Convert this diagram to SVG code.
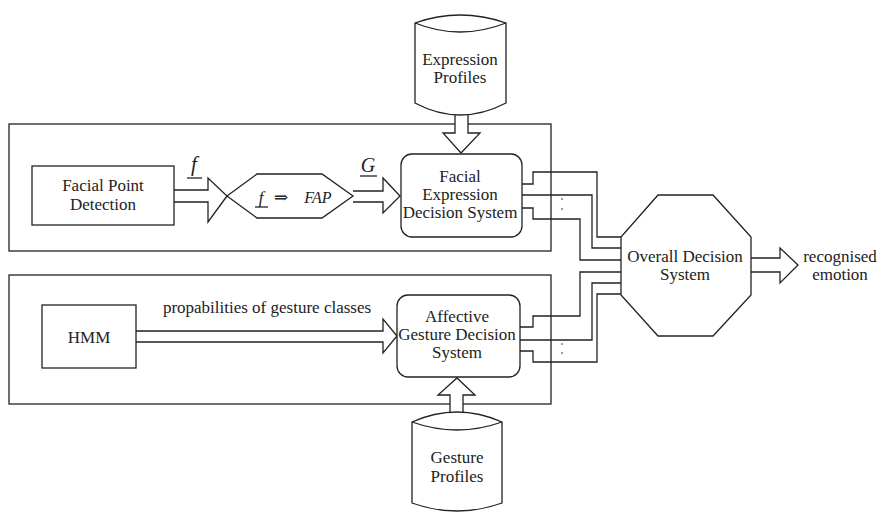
<svg xmlns="http://www.w3.org/2000/svg" width="880" height="512" viewBox="0 0 880 512">
<style>
.s{fill:none;stroke:#222;stroke-width:1.3;stroke-linejoin:miter}
.w{fill:#fff;stroke:#222;stroke-width:1.3}
text{font-family:'Liberation Serif','DejaVu Serif',serif;fill:#222;text-anchor:middle}
.t{font-size:17px}
.i{font-style:italic}
.d{fill:#222}
</style>
<rect width="880" height="512" fill="#fff"/>
<g id="containers">
<rect class="s" x="9" y="124" width="542" height="127"/>
<rect class="s" x="9" y="275" width="542" height="129"/>
</g>
<g id="connectors">
<path class="w" d="M174,190 H208 V178 L227,196 L208,222 V202 H174"/>
<path class="w" d="M353,191 H383 V178 L400,196 L383,213 V202 H353"/>
<path class="w" d="M455,110 V133 H443 L461,153 L480,133 H468 V110"/>
<path class="w" d="M136,331 H383 V319 L397,336 L383,353 V342 H136"/>
<path class="w" d="M450,420 V395 H438 L457,378 L475,395 H463 V420"/>
<path class="w" d="M751,258 H780 V248 L798,265 L780,283 V272 H751"/>
<path class="s" d="M522,184 H533 V172 H597 V237 H621"/>
<path class="s" d="M522,195 H592 V248 H621"/>
<path class="s" d="M522,208 H533 V219 H580 V260 H621"/>
<path class="s" d="M621,272 H580 V316 H533 V327 H520"/>
<path class="s" d="M621,283 H592 V340 H520"/>
<path class="s" d="M621,294 H597 V362 H533 V351 H520"/>
<circle class="d" cx="562" cy="199" r="0.8"/>
<circle class="d" cx="562" cy="209" r="0.8"/>
<circle class="d" cx="562" cy="344" r="0.8"/>
<circle class="d" cx="562" cy="353" r="0.8"/>
<text class="i" x="194" y="171" font-size="21">f</text>
<line class="s" x1="187" y1="178" x2="202" y2="178"/>
<text class="i" x="368" y="172" font-size="20">G</text>
<line class="s" x1="360" y1="176" x2="377" y2="176"/>
<text class="t" x="267" y="313">propabilities of gesture classes</text>
</g>
<g id="expression-profiles">
<path class="w" d="M415,23 Q460,7 506,23 V103 Q460,127 415,103 Z"/>
<path class="s" d="M415,23 Q460,41 506,23"/>
<text class="t" x="460" y="65">Expression</text>
<text class="t" x="460" y="83">Profiles</text>
</g>
<g id="gesture-profiles">
<path class="w" d="M412,422 Q457,402 502,422 V503 Q457,519 412,503 Z"/>
<path class="s" d="M412,422 Q457,438 502,422"/>
<text class="t" x="457" y="463">Gesture</text>
<text class="t" x="457" y="482">Profiles</text>
</g>
<g id="facial-point">
<rect class="w" x="32" y="166" width="142" height="59"/>
<text class="t" x="103" y="191">Facial Point</text>
<text class="t" x="103" y="210">Detection</text>
</g>
<g id="fap">
<path class="w" d="M227,196 L257,174 H322 L353,196 L322,218 H257 Z"/>
<text class="i" x="261" y="203" font-size="17">f</text>
<line class="s" x1="255" y1="207" x2="268" y2="207"/>
<text class="t" x="281" y="203">⇒</text>
<text class="i" x="318" y="203" font-size="16">FAP</text>
</g>
<g id="facial-decision">
<rect class="w" x="401" y="154" width="121" height="83" rx="11"/>
<text class="t" x="460" y="182">Facial</text>
<text class="t" x="460" y="200">Expression</text>
<text class="t" x="460" y="218">Decision System</text>
</g>
<g id="hmm">
<rect class="w" x="42" y="305" width="94" height="63"/>
<text class="t" x="89" y="343">HMM</text>
</g>
<g id="affective-decision">
<rect class="w" x="397" y="295" width="123" height="82" rx="11"/>
<text class="t" x="457" y="322">Affective</text>
<text class="t" x="457" y="340">Gesture Decision</text>
<text class="t" x="457" y="358">System</text>
</g>
<g id="overall">
<path class="w" d="M658,195 H713 L751,237 V295 L713,336 H658 L621,295 V237 Z"/>
<text class="t" x="685" y="262">Overall Decision</text>
<text class="t" x="685" y="280">System</text>
</g>
<g id="output">
<text class="t" x="840" y="262">recognised</text>
<text class="t" x="840" y="280">emotion</text>
</g>
</svg>
